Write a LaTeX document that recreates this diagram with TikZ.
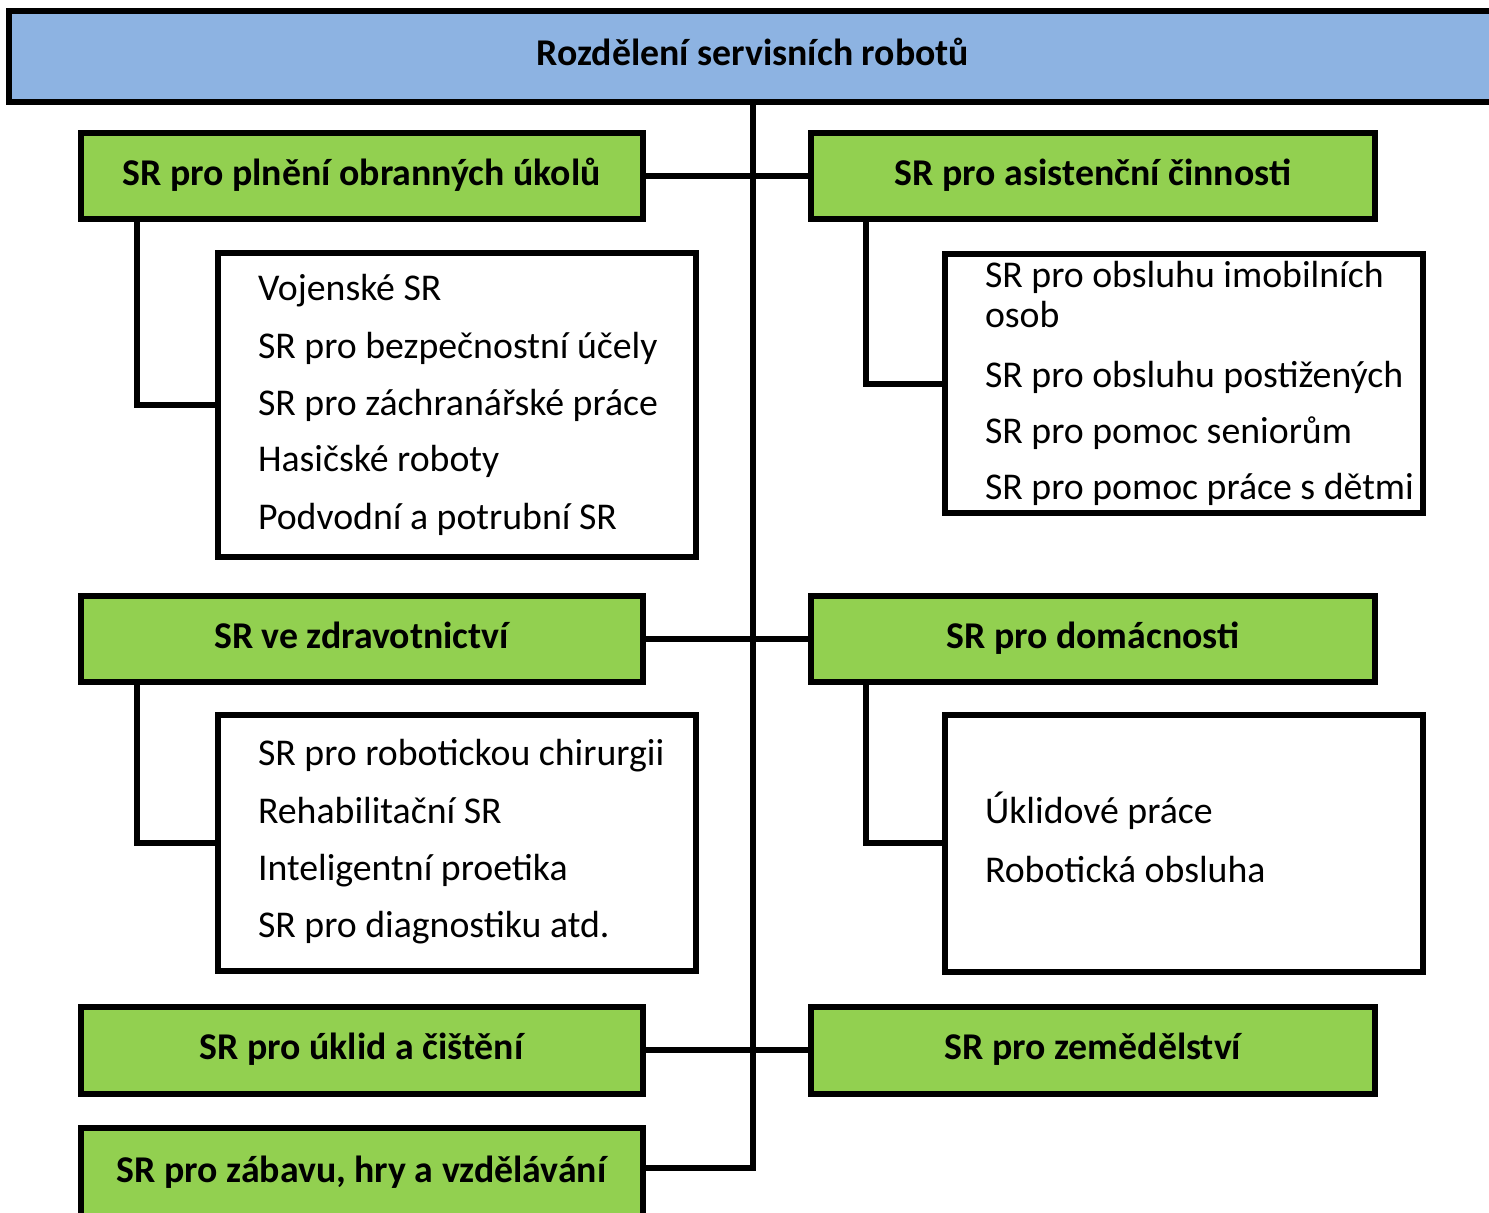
\documentclass[tikz,border=0pt]{standalone}
\usepackage{fontspec}
\setmainfont{Carlito}
\definecolor{topblue}{RGB}{141,179,226}
\definecolor{boxgreen}{RGB}{146,208,80}
\begin{document}
\begin{tikzpicture}[x=1pt,y=-1pt,
  every node/.style={outer sep=0pt},
  titlebox/.style={draw=black, line width=6pt, fill=topblue, minimum width=1488pt, minimum height=91pt,
    font=\fontsize{37.8}{45}\selectfont\bfseries, text height=24pt, text depth=6pt, inner sep=0pt},
  catbox/.style={draw=black, line width=6pt, fill=boxgreen, minimum height=86pt,
    font=\fontsize{37.8}{45}\selectfont\bfseries, text height=24pt, text depth=6pt, inner sep=0pt},
  listbox/.style={draw=black, line width=6pt, fill=white, minimum width=478pt, inner sep=0pt},
  item/.style={anchor=base west, inner sep=0pt, font=\fontsize{37.8}{45}\selectfont},
  conn/.style={draw=black, line width=6pt, line cap=rect}
]
\useasboundingbox (0,0) rectangle (1489,1213);
\clip (0,0) rectangle (1489,1213);

% title
\node[titlebox] (top) at (753,56) {Rozdělení servisních robotů};

% trunk end
\coordinate (trunkend) at (753,1168);

% category boxes
\node[catbox, minimum width=562pt] (g1) at (361.5,176) {SR pro plnění obranných úkolů};
\node[catbox, minimum width=564pt] (g2) at (1093,176) {SR pro asistenční činnosti};
\node[catbox, minimum width=562pt] (g3) at (361.5,639) {SR ve zdravotnictví};
\node[catbox, minimum width=564pt] (g4) at (1093,639) {SR pro domácnosti};
\node[catbox, minimum width=562pt, minimum height=87pt] (g5) at (361.5,1050) {SR pro úklid a čištění};
\node[catbox, minimum width=564pt, minimum height=87pt] (g6) at (1093,1050) {SR pro zemědělství};
\node[catbox, minimum width=562pt, minimum height=96pt, text height=18pt] (g7) at (361.5,1176) {SR pro zábavu, hry a vzdělávání};

% list boxes
\node[listbox, minimum height=304pt] (w1) at (457,405) {};
\node[listbox, minimum height=256pt] (w2) at (457,843) {};
\node[listbox, minimum height=259pt] (w3) at (1184,383.5) {};
\node[listbox, minimum height=257pt] (w4) at (1184,843) {};

% connectors
\draw[conn] (top.south) -- (trunkend);
\draw[conn] (g1.east) -- (g2.west);
\draw[conn] (g3.east) -- (g4.west);
\draw[conn] (g5.east) -- (g6.west);
\draw[conn] (g7.east |- trunkend) -- (trunkend);
\draw[conn, line cap=butt] ([xshift=56pt]g1.south west) |- (w1.west);
\draw[conn, line cap=butt] ([xshift=56pt]g3.south west) |- (w2.west);
\draw[conn, line cap=butt] ([xshift=55pt]g2.south west) |- (w3.west);
\draw[conn, line cap=butt] ([xshift=55pt]g4.south west) |- (w4.west);

% redraw boxes over connectors' ends
\node[catbox, minimum width=562pt] at (g1) {SR pro plnění obranných úkolů};
\node[catbox, minimum width=564pt] at (g2) {SR pro asistenční činnosti};
\node[catbox, minimum width=562pt] at (g3) {SR ve zdravotnictví};
\node[catbox, minimum width=564pt] at (g4) {SR pro domácnosti};
\node[titlebox] at (top) {Rozdělení servisních robotů};

% list items
\node[item] (a1) at (258,300.5) {Vojenské SR};
\node[item] (a2) at (258,358.5) {SR pro bezpečnostní účely};
\node[item] (a3) at (258,415.5) {SR pro záchranářské práce};
\node[item] (a4) at (258,471.5) {Hasičské roboty};
\node[item] (a5) at (258,529.5) {Podvodní a potrubní SR};

\node[item] (b1) at (258,765.5) {SR pro robotickou chirurgii};
\node[item] (b2) at (258,823.5) {Rehabilitační SR};
\node[item] (b3) at (258,880.5) {Inteligentní proetika};
\node[item] (b4) at (258,937.5) {SR pro diagnostiku atd.};

\node[item] (c1) at (985,287.5) {SR pro obsluhu imobilních};
\node[item] (c2) at (985,327.5) {osob};
\node[item] (c3) at (985,387.5) {SR pro obsluhu postižených};
\node[item] (c4) at (985,443.5) {SR pro pomoc seniorům};
\node[item] (c5) at (985,499.5) {SR pro pomoc práce s dětmi};

\node[item] (d1) at (985,823.5) {Úklidové práce};
\node[item] (d2) at (985,882.5) {Robotická obsluha};
\end{tikzpicture}
\end{document}
